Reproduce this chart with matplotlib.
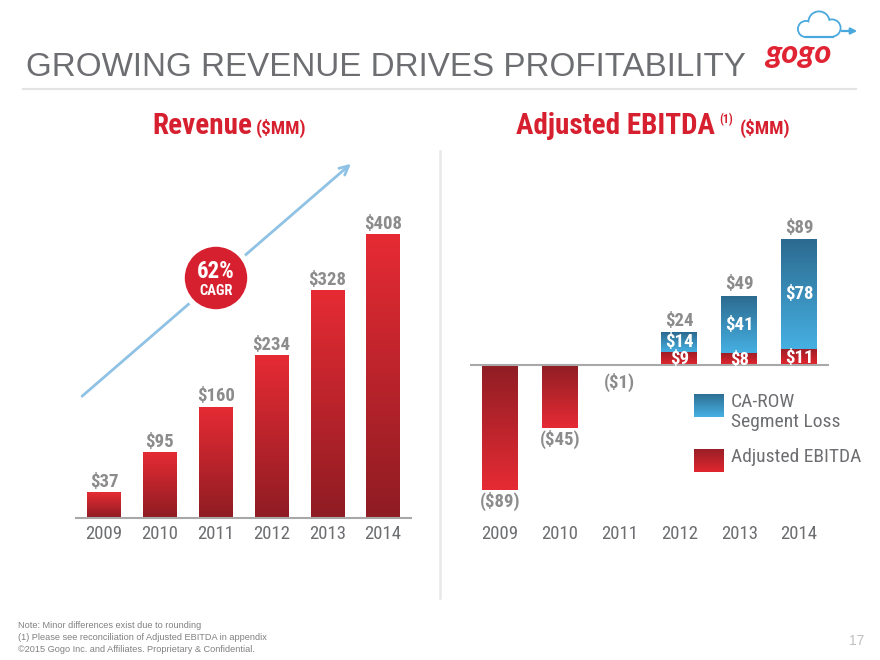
import numpy as np
import matplotlib
matplotlib.use('Agg')
import matplotlib.pyplot as plt
from matplotlib.colors import LinearSegmentedColormap
from matplotlib.patches import Rectangle, Circle, FancyArrowPatch

# data
years = ['2009', '2010', '2011', '2012', '2013', '2014']
revenue = [37, 95, 160, 234, 328, 408]
adj_ebitda = [-89, -45, -1, 9, 8, 11]        # red part
ca_row_loss = [0, 0, 0, 14, 41, 78]          # blue part stacked on top
ebitda_total = [-89, -45, -1, 24, 49, 89]    # labels (rounded on slide)

NARROW = ['Roboto Condensed', 'Archivo Narrow', 'Liberation Sans', 'DejaVu Sans']
SANS = ['Liberation Sans', 'DejaVu Sans']
GRAY = '#6d6e71'
LABEL_GRAY = '#8c8c8c'
RED = '#d7202f'

fig = plt.figure(figsize=(8.8, 6.6), dpi=100)

# overlay in pixel coordinates for the slide decoration
deco = fig.add_axes([0, 0, 1, 1], zorder=0)
deco.set_xlim(0, 880)
deco.set_ylim(660, 0)
deco.axis('off')


def grad_fill(ax, rect, top_c, bot_c, z=3):
    x, w = rect.get_x(), rect.get_width()
    y0, y1 = sorted([rect.get_y(), rect.get_y() + rect.get_height()])
    cmap = LinearSegmentedColormap.from_list('g', [bot_c, top_c])
    g = np.linspace(0, 1, 128).reshape(-1, 1)
    im = ax.imshow(g, cmap=cmap, extent=[x, x + w, y0, y1], origin='lower',
                   aspect='auto', zorder=z, interpolation='bicubic')
    im.set_clip_path(rect)
    return im


# ---------------- title, logo, lines ----------------
deco.text(26, 67, 'GROWING REVENUE DRIVES PROFITABILITY', fontsize=23.9,
          color=GRAY, family=SANS, va='center', ha='left')
deco.plot([23, 856], [89, 89], color='#e3e3e3', lw=1.5)
deco.plot([440, 440], [151, 598], color='#e8e8e8', lw=1.8)

deco.text(798, 53, 'gogo', fontsize=23, color='#e02434', fontweight='black',
          family=['Lato', 'DejaVu Sans'], style='italic', ha='center', va='center')
# cloud: blue discs with white discs on top leave an outline
cloud = [(806, 29, 6.5), (819, 22, 9), (832, 28, 7)]
for cx, cy, r in cloud:
    deco.add_patch(Circle((cx, cy), r + 1.8, color='#49a9dd', zorder=2))
for cx, cy, r in cloud:
    deco.add_patch(Circle((cx, cy), r, color='white', zorder=3))
deco.add_patch(Rectangle((806, 29), 26, 7, color='white', zorder=3))
deco.plot([806, 833], [36.6, 36.6], color='#49a9dd', lw=1.6, zorder=4)
deco.add_patch(FancyArrowPatch((839, 31), (860, 31), arrowstyle='-|>', mutation_scale=9,
                               color='#49a9dd', lw=1.6, zorder=4))

deco.text(252, 126, 'Revenue', fontsize=21, color=RED, fontweight='bold',
          family=NARROW, ha='right', va='center')
deco.text(256, 128.5, '($MM)', fontsize=13.6, color=RED, fontweight='bold',
          family=NARROW, ha='left', va='center')
deco.text(715, 126, 'Adjusted EBITDA', fontsize=21, color=RED, fontweight='bold',
          family=NARROW, ha='right', va='center')
deco.text(719, 120, '(1)', fontsize=8.5, color=RED, fontweight='bold',
          family=NARROW, ha='left', va='center')
deco.text(740, 128.5, '($MM)', fontsize=13.6, color=RED, fontweight='bold',
          family=NARROW, ha='left', va='center')

# ---------------- revenue chart ----------------
ax1 = fig.add_axes([76 / 880, 142 / 660, 335 / 880, 368 / 660], zorder=2)
ax1.patch.set_alpha(0)
x = np.arange(len(years))
bars = ax1.bar(x, revenue, width=0.6, color='#c9222c', zorder=2)
for b, v in zip(bars, revenue):
    grad_fill(ax1, b, '#e62b34', '#8f1c23')
    ax1.annotate(f'${v}', (b.get_x() + b.get_width() / 2, v), xytext=(0, 7.5),
                 textcoords='offset points', ha='center', va='center',
                 fontsize=13.5, fontweight='bold', color=LABEL_GRAY, family=NARROW)
ax1.axhline(0, color='#a8a8a8', lw=1.5, clip_on=False, zorder=4)
ax1.set_xlim(-0.5, 5.5)
ax1.set_ylim(0, 368 / 0.695)

# growth arrow and CAGR badge
deco.add_patch(FancyArrowPatch((80, 398), (353, 162), arrowstyle='->', mutation_scale=16,
                               color='#8fc2e4', lw=2, zorder=1))
deco.add_patch(Circle((216, 278), 34, facecolor=RED, edgecolor='white', lw=4, zorder=5))
deco.text(216, 271, '62%', fontsize=16.5, color='white', fontweight='bold',
          family=NARROW, ha='center', va='center', zorder=6)
deco.text(216, 291, 'CAGR', fontsize=10.5, color='white', fontweight='bold',
          family=NARROW, ha='center', va='center', zorder=6)

# ---------------- EBITDA chart ----------------
ax2 = fig.add_axes([470 / 880, 142 / 660, 359 / 880, 368 / 660], zorder=2)
ax2.patch.set_alpha(0)
red_bars = ax2.bar(x, adj_ebitda, width=0.6, color='#c9222c', zorder=2)
blue_bars = ax2.bar(x, ca_row_loss, width=0.6, bottom=[max(v, 0) for v in adj_ebitda],
                    color='#3a8fc0', zorder=2)
for i, (rb, bb) in enumerate(zip(red_bars, blue_bars)):
    cx = rb.get_x() + rb.get_width() / 2
    if adj_ebitda[i] < 0:
        grad_fill(ax2, rb, '#8f1d24', '#e62b34')
        off = -12 if adj_ebitda[i] > -5 else -8
        ax2.annotate(f'(${-ebitda_total[i]})', (cx, adj_ebitda[i]), xytext=(0, off),
                     textcoords='offset points', ha='center', va='center',
                     fontsize=13.5, fontweight='bold', color=LABEL_GRAY, family=NARROW)
    else:
        grad_fill(ax2, rb, '#a01e26', '#e3262f')
        ax2.text(cx, adj_ebitda[i] / 2 - 0.5, f'${adj_ebitda[i]}', ha='center', va='center',
                 fontsize=13.5, fontweight='bold', color='white', family=NARROW, zorder=6)
    if ca_row_loss[i] > 0:
        grad_fill(ax2, bb, '#2c6a8f', '#46b0e2')
        mid = bb.get_y() + bb.get_height() / 2
        ax2.text(cx, mid, f'${ca_row_loss[i]}', ha='center', va='center',
                 fontsize=13.5, fontweight='bold', color='white', family=NARROW, zorder=6)
        ax2.annotate(f'${ebitda_total[i]}', (cx, bb.get_y() + bb.get_height()), xytext=(0, 8.5),
                     textcoords='offset points', ha='center', va='center',
                     fontsize=13.5, fontweight='bold', color=LABEL_GRAY, family=NARROW)
ax2.axhline(0, color='#a8a8a8', lw=1.5, zorder=4)
ax2.set_xlim(-0.5, 5.5)
ax2.set_ylim(-(518 - 364.7) / 1.408, (364.7 - 150) / 1.408)

for ax in (ax1, ax2):
    ax.set_xticks(x)
    ax.set_xticklabels(years, fontsize=13.5, color=GRAY, family=NARROW)
    ax.tick_params(axis='x', length=0, pad=5)
    ax.set_yticks([])
    for s in ax.spines.values():
        s.set_visible(False)

# legend
leg = [('CA-ROW\nSegment Loss', 394, '#2e6f94', '#46b1e3', 412),
       ('Adjusted EBITDA', 449, '#9a1f27', '#e0262f', 457)]
for lab, top, tc, bc, ty in leg:
    cmap = LinearSegmentedColormap.from_list('l', [bc, tc])
    deco.imshow(np.linspace(0, 1, 64).reshape(-1, 1), cmap=cmap,
                extent=[694, 724, top + 23, top], origin='lower', aspect='auto', zorder=3)
    deco.text(731, ty, lab, fontsize=14, color=GRAY, family=NARROW, ha='left', va='center',
              linespacing=1.2)
deco.set_xlim(0, 880)
deco.set_ylim(660, 0)

# footnotes
notes = ['Note: Minor differences exist due to rounding',
         '(1) Please see reconciliation of Adjusted EBITDA in appendix',
         '\u00a92015 Gogo Inc. and Affiliates. Proprietary & Confidential.']
for k, n in enumerate(notes):
    deco.text(18, 626 + 11.5 * k, n, fontsize=6.6, color='#808080', family=SANS, va='center')
deco.text(864, 641, '17', fontsize=10, color='#c0c0c0', ha='right', va='center', family=SANS)

fig.savefig('out.png', dpi=100)
